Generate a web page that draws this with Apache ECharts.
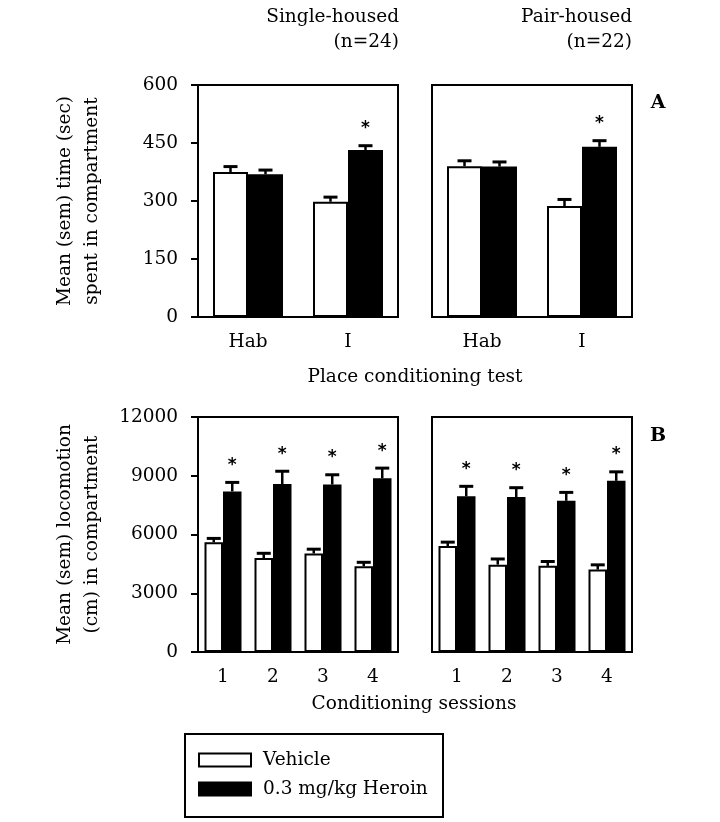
<!DOCTYPE html>
<html>
<head>
<meta charset="utf-8">
<script src="https://cdn.jsdelivr.net/npm/echarts@6/dist/echarts.min.js"></script>
<style>html,body{margin:0;padding:0;background:#fff;}#c{width:720px;height:822px;}</style>
</head>
<body>
<div id="c"></div>
<script>
// ---- data ----
var categoriesA = ['Hab', 'I'];
var categoriesB = ['1', '2', '3', '4'];
var ticksA = [0, 150, 300, 450, 600];
var ticksB = [0, 3000, 6000, 9000, 12000];

var singleVehA = [375, 298];
var singleVehASem = [14, 12];
var singleHerA = [369, 432];
var singleHerASem = [11, 11];
var pairVehA = [390, 287];
var pairVehASem = [14, 17];
var pairHerA = [389, 440];
var pairHerASem = [12, 16];
var sigA = [0, 1];

var singleVehB = [5600, 4800, 5030, 4380];
var singleVehBSem = [200, 240, 220, 200];
var singleHerB = [8200, 8580, 8550, 8870];
var singleHerBSem = [460, 650, 500, 520];
var pairVehB = [5410, 4460, 4400, 4210];
var pairVehBSem = [200, 290, 220, 240];
var pairHerB = [7950, 7910, 7720, 8740];
var pairHerBSem = [510, 480, 430, 460];
var sigB = [1, 1, 1, 1];

var titles = ['Single-housed\n(n=24)', 'Pair-housed\n(n=22)'];
var yNameA = 'Mean (sem) time (sec)\nspent in compartment';
var yNameB = 'Mean (sem) locomotion\n(cm) in compartment';
var xNameA = 'Place conditioning test';
var xNameB = 'Conditioning sessions';
var legendNames = ['Vehicle', '0.3 mg/kg Heroin'];

// ---- chart ----
var FONT = 'DejaVu Serif';
var FS = 18.5;
var chart = echarts.init(document.getElementById('c'), null, {renderer: 'canvas'});

var grids = [
  {left: 198, top: 85, width: 200, height: 232},
  {left: 432, top: 85, width: 200, height: 232},
  {left: 198, top: 417, width: 200, height: 235},
  {left: 432, top: 417, width: 200, height: 235}
];
grids.forEach(function (g) { g.show = true; g.borderColor = '#000'; g.borderWidth = 2; g.backgroundColor = 'transparent'; g.containLabel = false; });

function xAx(i, cats) {
  return {
    type: 'category', gridIndex: i, data: cats,
    axisLine: {show: false}, axisTick: {show: false},
    axisLabel: {fontFamily: FONT, fontSize: FS, color: '#000', margin: 14, lineHeight: 22}
  };
}
function yAx(i, ticks, showLab, name) {
  return {
    type: 'value', gridIndex: i, min: ticks[0], max: ticks[ticks.length - 1],
    interval: ticks[1] - ticks[0],
    splitLine: {show: false},
    axisLine: {show: showLab, onZero: false, lineStyle: {color: '#000', width: 2}},
    axisTick: {show: showLab, inside: false, length: 7, lineStyle: {color: '#000', width: 2}},
    axisLabel: {show: showLab, fontFamily: FONT, fontSize: FS, color: '#000', margin: 20,
      formatter: function (v) { return String(v); }},
    name: name || '', nameLocation: 'middle', nameRotate: 90, nameGap: 92,
    nameTextStyle: {fontFamily: FONT, fontSize: FS, color: '#000', lineHeight: 27, align: 'center'}
  };
}

var series = [];
function addPair(gi, veh, vehSem, her, herSem, sig, pct) {
  var common = {type: 'bar', xAxisIndex: gi, yAxisIndex: gi, barWidth: pct + '%', barGap: '0%', animation: false};
  series.push(Object.assign({}, common, {name: legendNames[0], data: veh,
    itemStyle: {color: '#fff', borderColor: '#000', borderWidth: 2}}));
  series.push(Object.assign({}, common, {name: legendNames[1], data: her,
    itemStyle: {color: '#000', borderColor: '#000', borderWidth: 2}}));
  [[veh, vehSem, -1, null], [her, herSem, 1, sig]].forEach(function (s) {
    var d = s[0].map(function (v, k) { return [k, v, s[1][k], s[3] ? s[3][k] : 0]; });
    series.push({
      type: 'custom', xAxisIndex: gi, yAxisIndex: gi, z: 5, animation: false, silent: true,
      data: d, encode: {x: 0, y: 1},
      renderItem: function (params, api) {
        var idx = api.value(0), v = api.value(1), e = api.value(2), st = api.value(3);
        var band = api.size([1, 0])[0];
        var bw = band * pct / 100;
        var base = api.coord([idx, v]);
        var top = api.coord([idx, v + e]);
        var x = base[0] + s[2] * bw / 2;
        var cap = 7;
        var children = [
          {type: 'line', shape: {x1: x, y1: base[1], x2: x, y2: top[1]}, style: {stroke: '#000', lineWidth: 2.5}},
          {type: 'line', shape: {x1: x - cap, y1: top[1], x2: x + cap, y2: top[1]}, style: {stroke: '#000', lineWidth: 3}}
        ];
        if (st) {
          children.push({type: 'text', style: {text: '*', x: x, y: top[1] - 17, textAlign: 'center', textVerticalAlign: 'middle',
            font: 'bold 17px "DejaVu Sans"', fill: '#000'}});
        }
        return {type: 'group', children: children};
      }
    });
  });
}
addPair(0, singleVehA, singleVehASem, singleHerA, singleHerASem, sigA, 35);
addPair(1, pairVehA, pairVehASem, pairHerA, pairHerASem, sigA, 35);
addPair(2, singleVehB, singleVehBSem, singleHerB, singleHerBSem, sigB, 37);
addPair(3, pairVehB, pairVehBSem, pairHerB, pairHerBSem, sigB, 37);

var txt = function (x, y, text, align, extra) {
  return {type: 'text', x: x, y: y, style: Object.assign({text: text, fontFamily: FONT, fontSize: FS, fill: '#000',
    textAlign: align, textVerticalAlign: 'middle'}, extra || {})};
};

var option = {
  backgroundColor: '#fff',
  animation: false,
  grid: grids,
  xAxis: [xAx(0, categoriesA), xAx(1, categoriesA), xAx(2, categoriesB), xAx(3, categoriesB)],
  yAxis: [yAx(0, ticksA, true, yNameA), yAx(1, ticksA, false), yAx(2, ticksB, true, yNameB), yAx(3, ticksB, false)],
  legend: {
    data: legendNames, orient: 'vertical', left: 198, top: 749, itemWidth: 52, itemHeight: 13, itemGap: 7,
    padding: 0, selectedMode: false, icon: 'rect',
    textStyle: {fontFamily: FONT, fontSize: FS, color: '#000', padding: [0, 0, 0, 7], lineHeight: 22}
  },
  series: series,
  graphic: [
    {type: 'rect', shape: {x: 185, y: 734, width: 258, height: 83}, style: {fill: 'none', stroke: '#000', lineWidth: 2}},
    txt(399, 17, titles[0].split('\n')[0], 'right'),
    txt(399, 42, titles[0].split('\n')[1], 'right'),
    txt(632, 17, titles[1].split('\n')[0], 'right'),
    txt(632, 42, titles[1].split('\n')[1], 'right'),
    txt(415, 377, xNameA, 'center'),
    txt(414, 704, xNameB, 'center'),
    txt(658, 103, 'A', 'center', {fontWeight: 'bold', fontSize: 19}),
    txt(658, 436, 'B', 'center', {fontWeight: 'bold', fontSize: 19})
  ]
};
chart.setOption(option);
</script>
</body>
</html>
